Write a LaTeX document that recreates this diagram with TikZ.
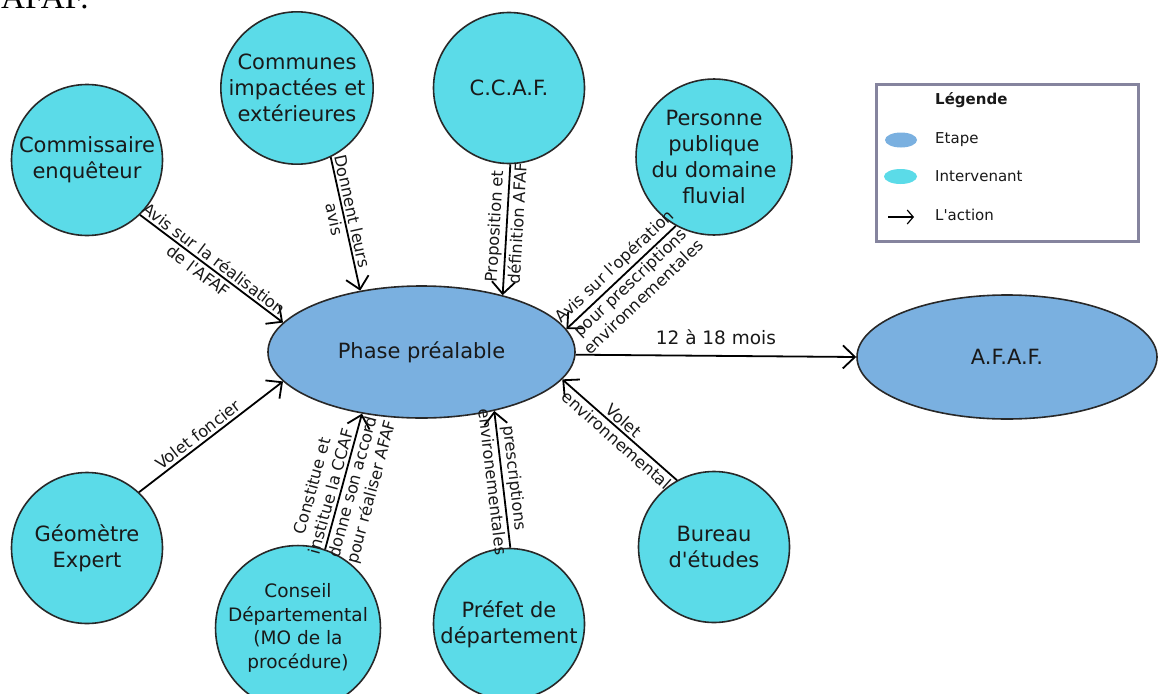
\documentclass[tikz,border=0pt]{standalone}
\usepackage{fontspec}
\setmainfont{DejaVu Sans}
\newfontfamily\seriffont{Liberation Serif}
\usetikzlibrary{shapes.geometric,arrows.meta}
\definecolor{cyanfill}{RGB}{91,219,232}
\definecolor{bluefill}{RGB}{122,176,224}
\definecolor{bordercol}{RGB}{40,40,40}
\definecolor{legendcol}{RGB}{133,132,158}
\definecolor{txt}{RGB}{25,25,25}
\newcommand{\ap}{\textquotesingle}
\begin{document}
\begin{tikzpicture}[x=1pt,y=-1pt,
  actor/.style={circle,draw=bordercol,line width=1.6pt,fill=cyanfill,minimum size=151pt,inner sep=0pt,align=center,text=txt,font=\fontsize{21}{26}\selectfont},
  stage/.style={ellipse,draw=bordercol,line width=1.6pt,fill=bluefill,inner sep=0pt,text=txt,font=\fontsize{21}{26}\selectfont},
  act/.style={line width=1.8pt,-{Straight Barb[length=12pt,width=23pt,line width=1.8pt]}},
  lbl/.style={sloped,align=center,font=\fontsize{16.3}{19.5}\selectfont,text=txt,inner sep=2.5pt},
  legtext/.style={anchor=west,inner sep=0pt,text=txt,font=\fontsize{15}{18}\selectfont}
]
\clip (0,0) rectangle (1158,693);
\fill[white] (0,0) rectangle (1158,693);
\node[anchor=base west,inner sep=0pt,font=\seriffont\fontsize{33}{33}\selectfont] (cut) at (1,8.5) {AFAF.};

\node[actor] (com) at (87,160) {Commissaire\\enquêteur};
\node[actor] (cmn) at (297,88) {Communes\\impactées et\\extérieures};
\node[actor] (ccaf) at (509,88) {C.C.A.F.};
\node[actor] (pp) at (714,157) {Personne\\publique\\du domaine\\fluvial};
\node[actor] (geo) at (87,548) {Géomètre\\Expert};
\node[actor,font=\fontsize{18.5}{23.5}\selectfont] (cd) at (298,628) {Conseil\\Départemental\\(MO de la\\procédure)};
\node[actor] (pref) at (509,624) {Préfet de\\département};
\node[actor] (be) at (714,547) {Bureau\\d\ap études};
\node[stage,minimum width=307pt,minimum height=132pt] (phase) at (421.5,352) {Phase préalable};
\node[stage,minimum width=300pt,minimum height=124pt] (afaf) at (1007,357) {A.F.A.F.};

\draw[act] (com.-46) -- (phase.168.7)
  node[lbl,pos=0.48,above] {Avis sur la réalisation}
  node[lbl,pos=0.45,below] {de l\ap AFAF};
\draw[act] (cmn.-64.7) -- (phase.135.9)
  node[lbl,pos=0.42,above] {Donnent leurs}
  node[lbl,pos=0.45,below] {avis};
\draw[act] (ccaf.-89) -- (phase.35.9)
  node[lbl,pos=0.48,above] {Proposition et}
  node[lbl,pos=0.45,below] {définition AFAF};
\draw[act] (pp.241.6) -- (phase.9.6)
  node[lbl,pos=0.48,above] {Avis sur l\ap opération}
  node[lbl,pos=0.48,below] {pour prescriptions\\environnementales};
\draw[act] (geo.47.7) -- (phase.192.3) node[lbl,pos=0.45,above] {Volet foncier};
\draw[act] (cd.71) -- (phase.226.9)
  node[lbl,pos=0.41,above] {Constitue et\\institue la CCAF}
  node[lbl,pos=0.48,below] {donne son accord\\pour réaliser AFAF};
\draw[act] (pref.89) -- (phase.-39.8)
  node[lbl,pos=0.5,above] {prescriptions}
  node[lbl,pos=0.49,below] {environementales};
\draw[act] (be.119.5) -- (phase.-11.8)
  node[lbl,pos=0.52,above] {Volet}
  node[lbl,pos=0.47,below] {environnemental};
\draw[act] (phase.-1.9) -- (afaf.west) node[midway,above=8pt,inner sep=2pt,text=txt,font=\fontsize{18.5}{22}\selectfont] {12 à 18 mois};

\node[draw=legendcol,line width=3pt,minimum width=262pt,minimum height=157pt,inner sep=0pt,anchor=north west] (leg) at (875,83) {};
\node[legtext,font=\bfseries\fontsize{15}{18}\selectfont] (legt) at (935,100) {Légende};
\node[ellipse,fill=bluefill,minimum width=32pt,minimum height=15pt,inner sep=0pt] (legs) at (901,140) {};
\node[legtext] (legst) at (935,140) {Etape};
\node[ellipse,fill=cyanfill,minimum width=33pt,minimum height=15pt,inner sep=0pt] (lega) at (900.5,176.5) {};
\node[legtext] (legat) at (935,176.5) {Intervenant};
\coordinate (la1) at (888,217);
\coordinate (la2) at (914,217);
\draw[line width=1.2pt,-{Straight Barb[length=6pt,width=14pt,line width=1.2pt]}] (la1) -- (la2);
\node[legtext] (lgt) at (935,215) {L\ap action};
\end{tikzpicture}
\end{document}
